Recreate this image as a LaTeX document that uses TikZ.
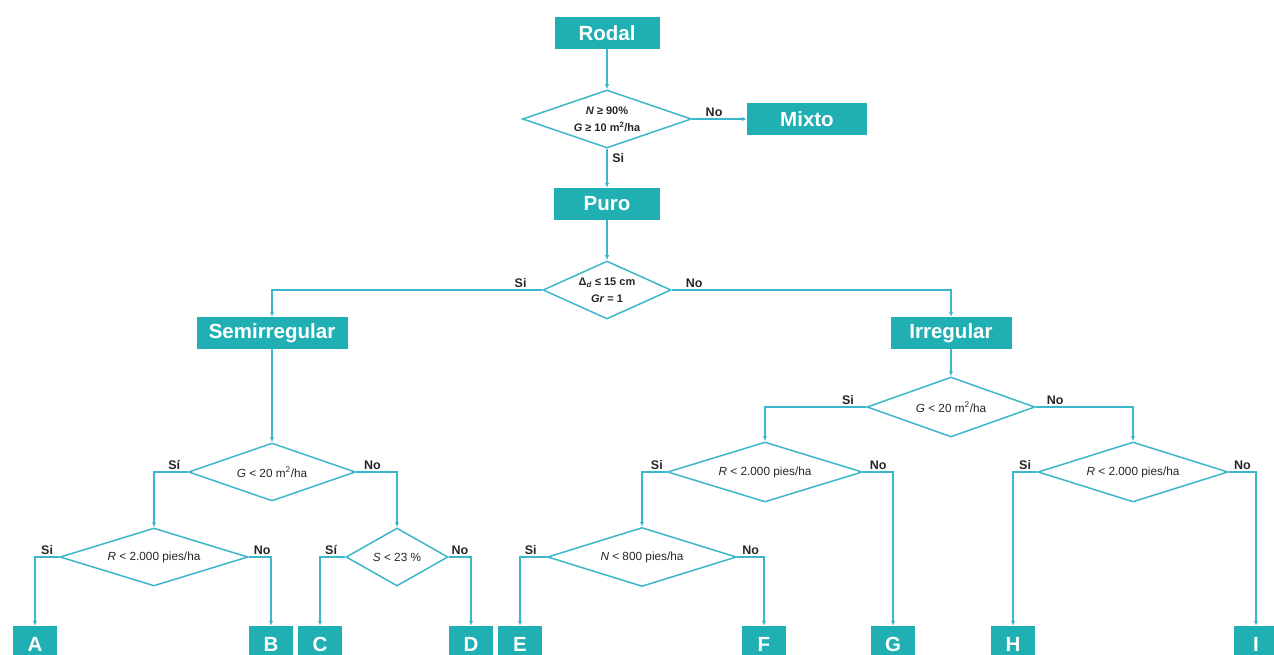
\documentclass[tikz,border=0pt]{standalone}
\usepackage{fontspec}
\setmainfont{Liberation Sans}
\usetikzlibrary{shapes.geometric}
\usetikzlibrary{arrows.meta}
\definecolor{boxteal}{RGB}{32,176,180}
\definecolor{lineteal}{RGB}{60,182,202}
\tikzset{
  box/.style={fill=boxteal, text=white, inner sep=0pt, minimum height=32pt,
    font=\bfseries\fontsize{20.5}{22}\selectfont},
  leaf/.style={box, minimum width=44pt, minimum height=36pt},
  cond/.style={diamond, shape aspect=2.9, draw=lineteal, line width=1.5pt, inner sep=0pt, align=center,
    text=black!85, font=\fontsize{11.8}{17}\selectfont},
  conn/.style={draw=lineteal, line width=1.5pt, -{Latex[length=5pt,width=4.5pt]}},
  lbl/.style={text=black!85, inner sep=1.5pt, font=\bfseries\fontsize{12.5}{14}\selectfont},
}

\begin{document}
\begin{tikzpicture}[x=1pt,y=1pt,yscale=-1]
\useasboundingbox (0,0) rectangle (1274,655);

%Shape: Rectangle
\node [box, minimum width=105pt] (rodal) at (607,33) {Rodal};
\node [box, minimum width=120pt] (mixto) at (807,119) {Mixto};
\node [box, minimum width=106pt] (puro) at (607,204) {Puro};
\node [box, minimum width=151pt] (semirreg) at (272,333) {Semirregular};
\node [box, minimum width=121pt] (irreg) at (951,333) {Irregular};

%Shape: Diamond
\node [cond, font=\bfseries\fontsize{11}{17}\selectfont, minimum width=169pt, minimum height=58pt] (condMix) at (607,119)
  {\textit{N} ≥ 90\%\\\textit{G} ≥ 10 m\textsuperscript{2}/ha};
\node [cond, font=\bfseries\fontsize{11}{17}\selectfont, minimum width=128pt, minimum height=58pt] (condDelta) at (607,290)
  {Δ\textsubscript{\textit{d}} ≤ 15 cm\\\textit{Gr} = 1};
\node [cond, minimum width=167pt, minimum height=58pt] (condGs) at (272,472) {\textit{G} < 20 m\textsuperscript{2}/ha};
\node [cond, minimum width=188pt, minimum height=58pt] (condRs) at (154,557) {\textit{R} < 2.000 pies/ha};
\node [cond, minimum width=102pt, minimum height=58pt] (condS) at (397,557) {\textit{S} < 23 \%};
\node [cond, minimum width=168pt, minimum height=60pt] (condGi) at (951,407) {\textit{G} < 20 m\textsuperscript{2}/ha};
\node [cond, minimum width=195pt, minimum height=60pt] (condRi) at (765,472) {\textit{R} < 2.000 pies/ha};
\node [cond, minimum width=189pt, minimum height=59pt] (condN) at (642,557) {\textit{N} < 800 pies/ha};
\node [cond, minimum width=190pt, minimum height=60pt] (condRh) at (1133,472) {\textit{R} < 2.000 pies/ha};

%Shape: Rectangle (leaves)
\node [leaf] (leafA) at (35,644) {A};
\node [leaf] (leafB) at (271,644) {B};
\node [leaf] (leafC) at (320,644) {C};
\node [leaf] (leafD) at (471,644) {D};
\node [leaf] (leafE) at (520,644) {E};
\node [leaf] (leafF) at (764,644) {F};
\node [leaf] (leafG) at (893,644) {G};
\node [leaf] (leafH) at (1013,644) {H};
\node [leaf] (leafI) at (1256,644) {I};

%Straight Lines
\draw [conn] (rodal) -- (condMix);
\draw [conn] (condMix.east) -- node [lbl, above, pos=0.4] (noMix) {No} (mixto);
\draw [conn] (condMix.south) -- node [lbl, right, pos=0.25, xshift=3pt] (siMix) {Si} (puro);
\draw [conn] (puro) -- (condDelta);
\draw [conn] (condDelta.west) -| node [lbl, above, pos=0.04] (siDelta) {Si} (semirreg.north);
\draw [conn] (condDelta.east) -| node [lbl, above, pos=0.04] (noDelta) {No} (irreg.north);
\draw [conn] (semirreg) -- (condGs);
\draw [conn] (irreg) -- (condGi);
%Straight Lines (semirregular)
\draw [conn] (condGs.west) -| node [lbl, above, pos=0.2] (siGs) {Sí} (condRs.north);
\draw [conn] (condGs.east) -| node [lbl, above, pos=0.2] (noGs) {No} (condS.north);
\draw [conn] (condRs.west) -| node [lbl, above, pos=0.25] (siRs) {Si} (leafA.north);
\draw [conn] (condRs.east) -| node [lbl, above, pos=0.3] (noRs) {No} (leafB.north);
\draw [conn] (condS.west) -| node [lbl, above, pos=0.28] (siS) {Sí} (leafC.north);
\draw [conn] (condS.east) -| node [lbl, above, pos=0.25] (noS) {No} (leafD.north);
%Straight Lines (irregular)
\draw [conn] (condGi.west) -| node [lbl, above, pos=0.09] (siGi) {Si} (condRi.north);
\draw [conn] (condGi.east) -| node [lbl, above, pos=0.1] (noGi) {No} (condRh.north);
\draw [conn] (condRi.west) -| node [lbl, above, pos=0.2] (siRi) {Si} (condN.north);
\draw [conn] (condRi.east) -| node [lbl, above, pos=0.25] (noRi) {No} (leafG.north);
\draw [conn] (condN.west) -| node [lbl, above, pos=0.3] (siN) {Si} (leafE.north);
\draw [conn] (condN.east) -| node [lbl, above, pos=0.25] (noN) {No} (leafF.north);
\draw [conn] (condRh.west) -| node [lbl, above, pos=0.25] (siRh) {Si} (leafH.north);
\draw [conn] (condRh.east) -| node [lbl, above, pos=0.25] (noRh) {No} (leafI.north);

\end{tikzpicture}
\end{document}
